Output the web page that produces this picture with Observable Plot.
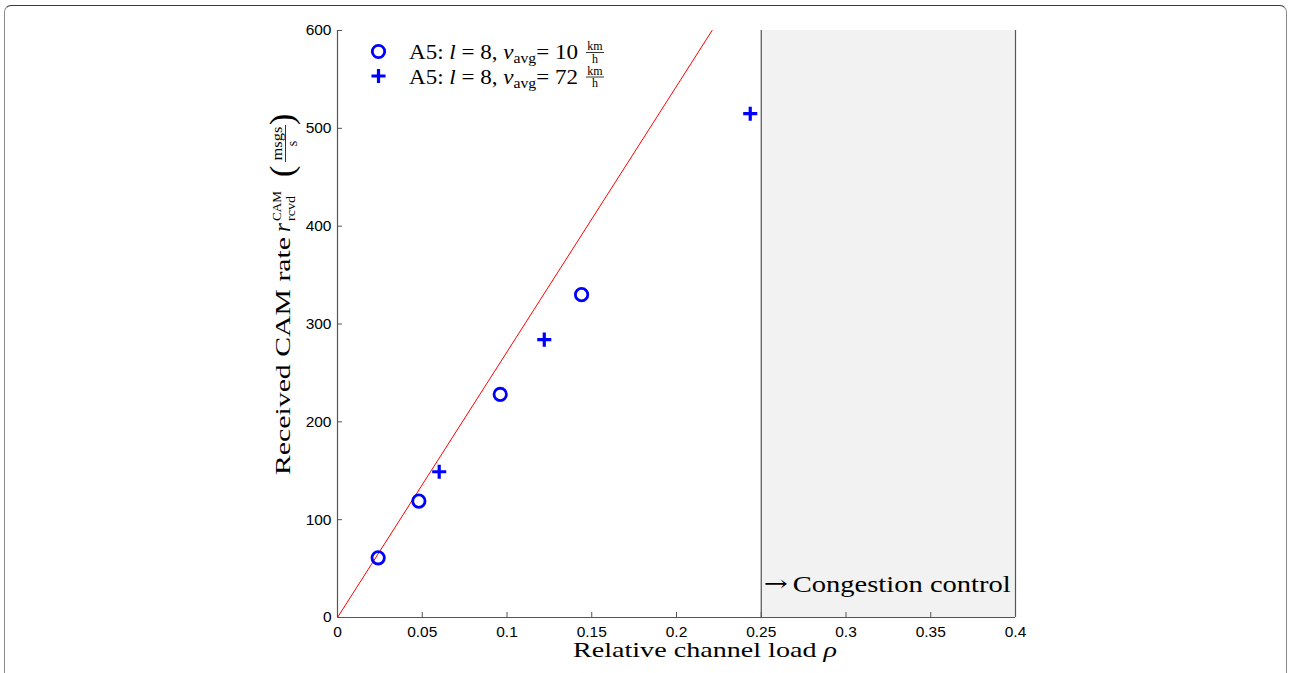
<!DOCTYPE html>
<html><head><meta charset="utf-8">
<script src="https://cdn.jsdelivr.net/npm/d3@7"></script>
<script src="https://cdn.jsdelivr.net/npm/@observablehq/plot@0.6"></script>
<style>
html,body{margin:0;padding:0;background:#fff;overflow:hidden;width:1289px;height:673px}
#frame{position:absolute;left:4px;top:5px;width:1283px;height:720px;border:1.5px solid #8a8a8a;border-top-color:#3a3a3a;border-radius:7px 7px 0 0;box-sizing:border-box}
#chart{position:absolute;left:0;top:0}
</style></head><body>
<div id="frame"></div><div id="chart"></div>
<script>
// ---- data ----
const rhoLow = [0.024, 0.048, 0.096, 0.144];
const rateLow = [61, 119, 228, 330];
const rhoHigh = [0.060, 0.122, 0.2435];
const rateHigh = [149, 284, 515];
const fitRho = [0, 0.221];
const fitRate = [0, 600];
const congestionFrom = 0.25, congestionTo = 0.4;
const xTicks = [0, 0.05, 0.1, 0.15, 0.2, 0.25, 0.3, 0.35, 0.4];
const yTicks = [0, 100, 200, 300, 400, 500, 600];
const legendSpeeds = ["10", "72"];
const congestionLabel = "Congestion control";

const low = rhoLow.map((x, i) => ({x, y: rateLow[i]}));
const high = rhoHigh.map((x, i) => ({x, y: rateHigh[i]}));
const fit = fitRho.map((x, i) => ({x, y: fitRate[i]}));
const region = [{x1: congestionFrom, x2: congestionTo, y1: 0, y2: 600}];

const blue = "#0000ff";
const serif = "'Liberation Serif', 'Times New Roman', serif";
const circleStyle = {r: 6.2, stroke: blue, strokeWidth: 2.8, fill: "none"};
const plusStyle = {symbol: "plus", r: 4.6, stroke: blue, strokeWidth: 3.2};

const plot = Plot.plot({
  width: 1289, height: 673,
  marginLeft: 337, marginRight: 274, marginTop: 30, marginBottom: 56,
  style: {fontFamily: "'Liberation Sans', Arial, sans-serif", background: "transparent", color: "black"},
  x: {domain: [0, 0.4]},
  y: {domain: [0, 600]},
  marks: [
    Plot.rect(region, {x1: "x1", x2: "x2", y1: "y1", y2: "y2", fill: "#f2f2f2"}),
    Plot.ruleX([congestionFrom, congestionTo], {stroke: "#555", strokeWidth: 1.2}),
    Plot.line(fit, {x: "x", y: "y", stroke: "#ff0000", strokeWidth: 1, clip: true}),
    Plot.axisX({ticks: xTicks, tickSize: -5, tickPadding: 13, tickFormat: d => String(d), fontSize: 15.5, stroke: "#555", fill: "black", label: null}),
    Plot.axisY({ticks: yTicks, tickSize: -5, tickPadding: 11, tickFormat: d => String(d), fontSize: 15.5, stroke: "#555", fill: "black", label: null}),
    Plot.ruleX([0], {stroke: "#555", strokeWidth: 1.2}),
    Plot.ruleY([0], {stroke: "#555", strokeWidth: 1.2}),
    Plot.dot(low, {x: "x", y: "y", ...circleStyle}),
    Plot.dot(high, {x: "x", y: "y", ...plusStyle}),
    // legend markers
    Plot.dot([0], {frameAnchor: "top-left", dx: 41, dy: 21, ...circleStyle}),
    Plot.dot([0], {frameAnchor: "top-left", dx: 41, dy: 45.5, ...plusStyle})
  ]
});
document.getElementById("chart").appendChild(plot);

const svg = d3.select(plot);
const xs = plot.scale("x"), ys = plot.scale("y");

function addText(parent, {x, y, size, len, anchor = "start"}, parts) {
  const t = parent.append("text").attr("x", x).attr("y", y)
    .attr("font-family", serif).attr("font-size", size).attr("fill", "black")
    .attr("text-anchor", anchor);
  if (len) t.attr("textLength", len).attr("lengthAdjust", "spacingAndGlyphs");
  for (const p of parts) {
    const s = t.append("tspan").text(p.t);
    if (p.i) s.attr("font-style", "italic");
    if (p.size) s.attr("font-size", p.size);
    if (p.dy) s.attr("dy", p.dy);
    if (p.font) s.attr("font-family", p.font);
  }
  return t;
}

// congestion label
const cx0 = xs.apply(congestionFrom), cy0 = ys.apply(0);
addText(svg, {x: cx0 + 3, y: cy0 - 26, size: 22, len: 24}, [{t: "\u2192", font: "'DejaVu Serif', serif", size: 22}]);
addText(svg, {x: cx0 + 32, y: cy0 - 25, size: 23, len: 218}, [{t: congestionLabel}]);

// legend texts
legendSpeeds.forEach((v, k) => {
  const base = 59 + k * 24.5;
  addText(svg, {x: 409, y: base, size: 20.5, len: 169}, [
    {t: "A5: "}, {t: "l", i: true}, {t: " = 8, "}, {t: "v", i: true},
    {t: "avg", size: 14, dy: 4}, {t: "= " + v, size: 20.5, dy: -4}
  ]);
  addText(svg, {x: 595, y: base - 9, size: 12, anchor: "middle"}, [{t: "km"}]);
  svg.append("line").attr("x1", 586).attr("x2", 604).attr("y1", base - 6.5).attr("y2", base - 6.5)
    .attr("stroke", "black").attr("stroke-width", 0.8);
  addText(svg, {x: 595, y: base + 3.5, size: 12, anchor: "middle"}, [{t: "h"}]);
});

// x label
addText(svg, {x: 573, y: 657, size: 22, len: 264}, [{t: "Relative channel load "}, {t: "\u03c1", i: true}]);

// y label
const g = svg.append("g").attr("transform", "translate(290,475) rotate(-90)");
addText(g, {x: 0, y: 0, size: 22, len: 238}, [{t: "Received CAM rate"}]);
addText(g, {x: 243, y: 0, size: 23}, [{t: "r", i: true}]);
addText(g, {x: 254, y: -9, size: 13, len: 30}, [{t: "CAM"}]);
addText(g, {x: 254, y: 5, size: 13, len: 25}, [{t: "rcvd"}]);
addText(g, {x: 298, y: 3, size: 34}, [{t: "("}]);
addText(g, {x: 331.5, y: -8, size: 14, len: 34, anchor: "middle"}, [{t: "msgs"}]);
g.append("line").attr("x1", 313).attr("x2", 350).attr("y1", -4.5).attr("y2", -4.5).attr("stroke", "black").attr("stroke-width", 0.8);
addText(g, {x: 331.5, y: 7, size: 14, anchor: "middle"}, [{t: "s"}]);
addText(g, {x: 350, y: 3, size: 34}, [{t: ")"}]);
</script>
</body></html>
